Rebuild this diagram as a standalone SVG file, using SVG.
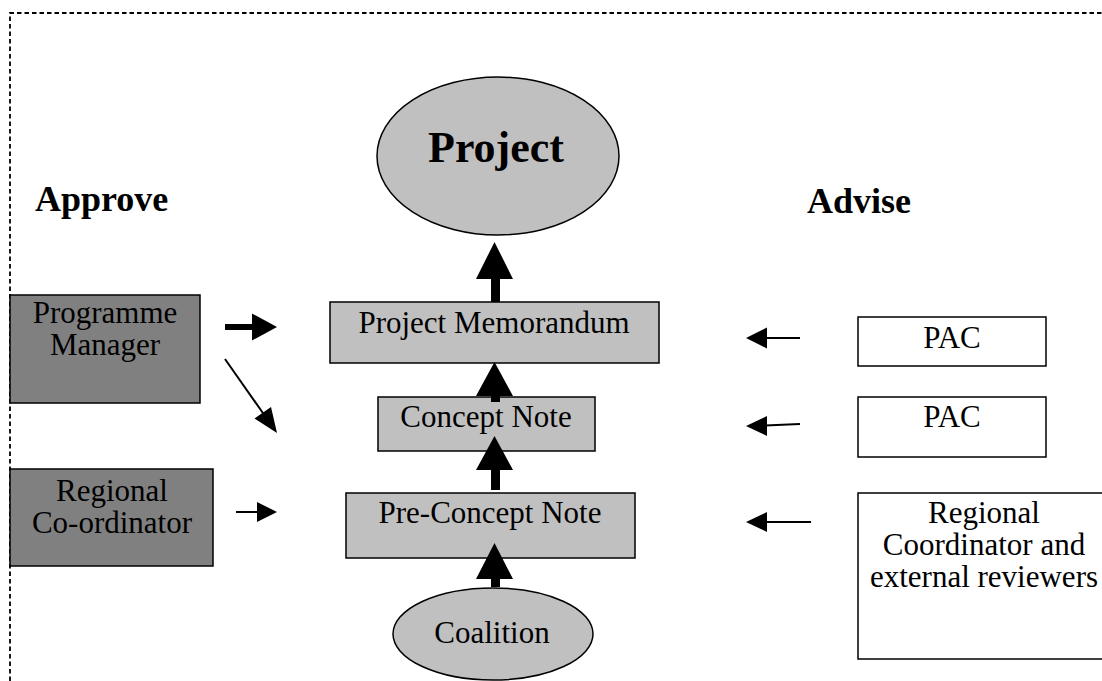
<svg xmlns="http://www.w3.org/2000/svg" width="1102" height="681" viewBox="0 0 1102 681">
<style>
text{font-family:"Liberation Serif","Times New Roman",serif;fill:#000;}
.t{font-size:31px;text-anchor:middle;}
.h{font-size:36px;font-weight:bold;}
.lt{fill:#c0c0c0;stroke:#000;stroke-width:1.5;}
.dk{fill:#808080;stroke:#000;stroke-width:1.5;}
.wh{fill:#fff;stroke:#000;stroke-width:1.5;}
.ln{stroke:#000;stroke-width:2;fill:none;}
.hd{fill:#000;stroke:none;}
</style>
<rect width="1102" height="681" fill="#fff"/>
<path d="M10,681 V13 H1102" fill="none" stroke="#000" stroke-width="1.8" stroke-dasharray="4.5 3"/>
<text class="h" x="35" y="211">Approve</text>
<text class="h" x="807" y="213">Advise</text>
<g id="project"><ellipse class="lt" cx="498" cy="156" rx="121" ry="79"/><text x="496" y="162" font-size="44" font-weight="bold" text-anchor="middle">Project</text></g>
<g id="memorandum"><rect class="lt" x="330" y="302" width="329" height="61"/><text class="t" x="494" y="333">Project Memorandum</text></g>
<g id="concept"><rect class="lt" x="378" y="397" width="217" height="54"/><text class="t" x="486" y="427">Concept Note</text></g>
<g id="preconcept"><rect class="lt" x="346" y="493" width="289" height="65"/><text class="t" x="490" y="523">Pre-Concept Note</text></g>
<g id="coalition"><ellipse class="lt" cx="493" cy="634" rx="100" ry="46"/><text class="t" x="492" y="643">Coalition</text></g>
<g id="pm"><rect class="dk" x="10" y="295" width="190" height="108"/><text class="t" x="105" y="323">Programme</text><text class="t" x="105" y="355">Manager</text></g>
<g id="rc"><rect class="dk" x="10" y="469" width="203" height="97"/><text class="t" x="112" y="501">Regional</text><text class="t" x="112" y="533">Co-ordinator</text></g>
<g id="pac1"><rect class="wh" x="858" y="317" width="188" height="49"/><text class="t" x="952" y="348">PAC</text></g>
<g id="pac2"><rect class="wh" x="858" y="397" width="188" height="60"/><text class="t" x="952" y="427">PAC</text></g>
<g id="reviewers"><rect class="wh" x="858" y="493" width="260" height="166"/><text class="t" x="984" y="523">Regional</text><text class="t" x="984" y="555">Coordinator and</text><text class="t" x="984" y="587">external reviewers</text></g>
<g id="connectors">
<path class="hd" d="M494.5,242 L513,279 L500,279 L500,302 L491,302 L491,279 L476,279 Z"/>
<path class="hd" d="M494.5,362 L513,396 L500,396 L500,402 L491,402 L491,396 L476,396 Z"/>
<path class="hd" d="M494.5,436 L513,470 L500,470 L500,490 L491,490 L491,470 L476,470 Z"/>
<path class="hd" d="M494.5,543 L513,579 L500,579 L500,587 L491,587 L491,579 L476,579 Z"/>
<line x1="225" y1="327" x2="254" y2="327" stroke="#000" stroke-width="6"/>
<path class="hd" d="M277,327 L252,313.5 L252,340.5 Z"/>
<line class="ln" x1="225" y1="359" x2="265" y2="416"/>
<path class="hd" d="M277,433 L254.5,418.5 L271,407 Z"/>
<line class="ln" x1="236" y1="512" x2="259" y2="512"/>
<path class="hd" d="M277,512 L257,502 L257,522 Z"/>
<line class="ln" x1="765" y1="338" x2="800" y2="338"/>
<path class="hd" d="M746,338 L767,327.5 L767,348.5 Z"/>
<line class="ln" x1="765" y1="425.5" x2="800" y2="424"/>
<path class="hd" d="M746,426 L767,416 L767,436 Z"/>
<line class="ln" x1="765" y1="522" x2="811" y2="522"/>
<path class="hd" d="M746,522 L767,512 L767,532 Z"/>
</g>
</svg>
